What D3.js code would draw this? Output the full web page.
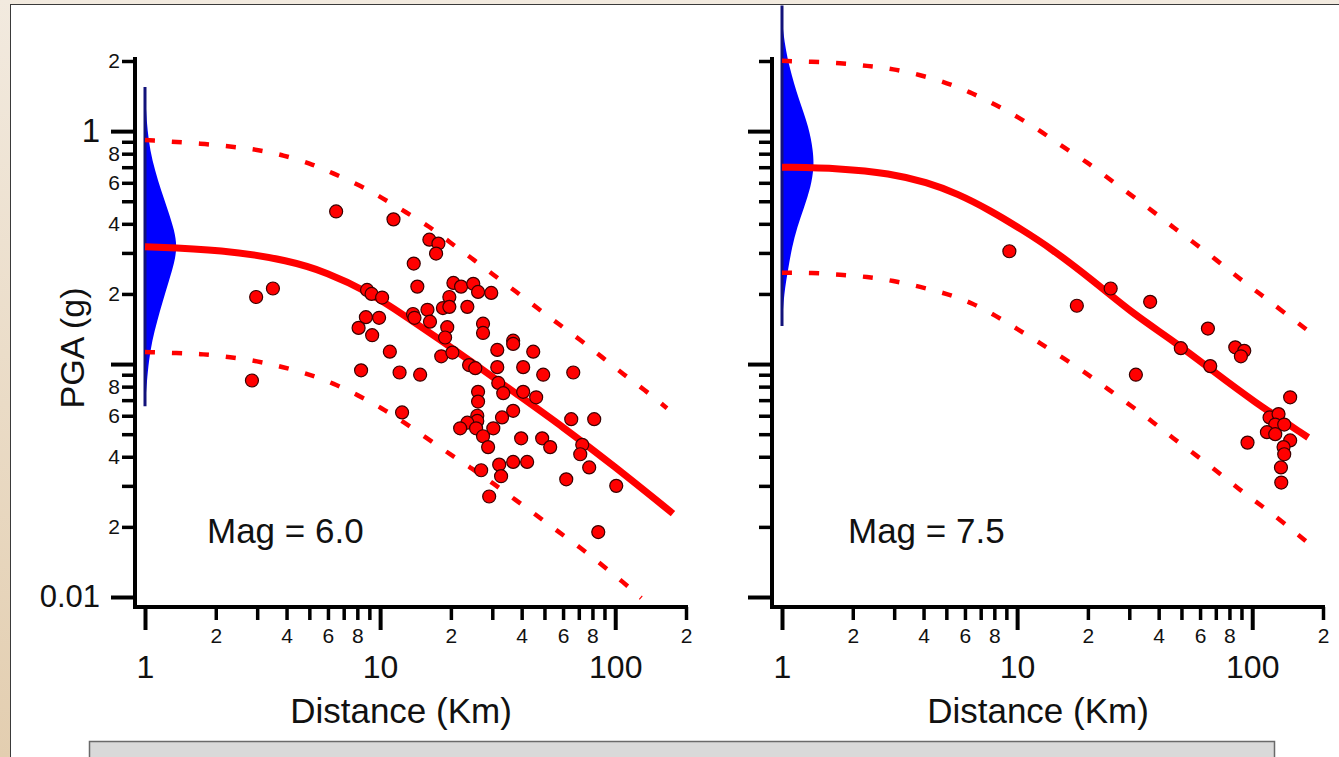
<!DOCTYPE html>
<html>
<head>
<meta charset="utf-8">
<script src="https://cdn.jsdelivr.net/npm/d3@7"></script>
<style>
  html, body { margin: 0; padding: 0; background: #fff; }
  svg { display: block; }
</style>
</head>
<body>
<svg id="chart" width="1339" height="757"></svg>
<script>
// Values: distance in km, PGA in g

// Mag 6.0 recordings [distance, pga]
const m6Points = [
  [6.5, 0.452], [11.4, 0.418], [16.2, 0.342], [17.7, 0.329], [17.3, 0.298], [13.9, 0.270],
  [14.4, 0.215], [20.5, 0.223], [22.1, 0.215], [24.9, 0.221], [26.1, 0.204], [29.7, 0.202],
  [19.7, 0.194], [18.5, 0.174], [19.7, 0.176], [23.5, 0.176], [8.8, 0.208], [9.2, 0.200],
  [10.2, 0.193], [3.5, 0.211], [2.97, 0.194], [8.7, 0.159], [9.9, 0.158], [8.1, 0.143],
  [9.25, 0.133], [13.8, 0.164], [14.0, 0.158], [15.9, 0.171], [16.3, 0.152], [19.3, 0.144],
  [18.9, 0.130], [27.4, 0.149], [27.4, 0.136], [11.0, 0.113], [18.2, 0.108], [20.3, 0.112],
  [23.9, 0.099], [25.4, 0.096], [31.5, 0.115], [31.5, 0.097], [36.8, 0.126], [36.8, 0.122],
  [44.8, 0.113], [40.6, 0.097], [66.3, 0.092], [49.4, 0.090], [8.3, 0.094], [12.1, 0.092],
  [14.8, 0.090], [2.85, 0.085], [12.4, 0.062], [26.1, 0.076], [26.1, 0.069], [31.8, 0.083],
  [33.4, 0.075], [40.6, 0.076], [46.1, 0.072], [36.8, 0.063], [33.0, 0.059], [25.9, 0.060],
  [25.9, 0.057], [23.5, 0.056], [21.9, 0.053], [25.6, 0.053], [30.3, 0.053], [27.4, 0.049],
  [28.8, 0.044], [39.8, 0.048], [48.9, 0.048], [52.9, 0.044], [65.0, 0.058], [81.4, 0.058],
  [72.4, 0.045], [71.0, 0.041], [77.5, 0.036], [36.8, 0.038], [42.2, 0.038], [32.1, 0.037],
  [32.7, 0.033], [26.9, 0.035], [61.9, 0.032], [101, 0.030], [29.1, 0.027], [84.7, 0.019]
];

// Mag 6.0 model: median and the two dashed bounds
const m6Median = [[1, 0.319], [2.15, 0.310], [4.14, 0.278], [5.95, 0.247], [8.8, 0.206], [13.0, 0.159],
  [18, 0.127], [24.9, 0.101], [38.3, 0.0741], [60.1, 0.0536], [98.1, 0.0367], [176, 0.0228]];
const m6Upper = [[1, 0.915], [1.71, 0.888], [3.0, 0.836], [3.87, 0.788], [5.04, 0.728], [6.31, 0.659],
  [8.22, 0.585], [10.3, 0.514], [12.9, 0.448], [16.0, 0.393], [19.9, 0.332], [24.6, 0.284], [30.3, 0.242],
  [37.5, 0.206], [46.6, 0.174], [57.2, 0.149], [71, 0.127], [88, 0.107], [108, 0.0906], [134, 0.0772], [166, 0.0646]];
const m6Lower = [[1, 0.1126], [1.37, 0.1115], [1.77, 0.1104], [2.3, 0.1072], [3.0, 0.103], [3.87, 0.0971],
  [4.94, 0.0906], [6.31, 0.0828], [8.06, 0.0735], [10.2, 0.0646], [12.65, 0.0562], [15.85, 0.048], [19.9, 0.0409],
  [24.6, 0.0356], [30.3, 0.0307], [37.5, 0.0262], [46.6, 0.0223], [57.2, 0.0191], [71, 0.0163], [88, 0.0137],
  [108, 0.0116], [129, 0.0099]];

// Mag 6.0 scatter distribution at 1 km [pga, relative density]
const m6Pdf = [[1.547, 0], [1.232, 0.03], [1.0, 0.08], [0.828, 0.16], [0.679, 0.31], [0.557, 0.5],
  [0.4565, 0.72], [0.3745, 0.92], [0.319, 1.0], [0.2725, 0.92], [0.2279, 0.75], [0.1869, 0.56],
  [0.1532, 0.38], [0.1257, 0.22], [0.103, 0.12], [0.0845, 0.06], [0.0659, 0]];

// Mag 7.5 recordings
const m75Points = [
  [9.27, 0.305], [25.0, 0.211], [17.95, 0.178], [36.8, 0.185], [64.8, 0.142], [49.7, 0.117],
  [66.3, 0.098], [84.7, 0.118], [92.5, 0.114], [89.5, 0.108], [32.0, 0.090], [145, 0.072],
  [118.5, 0.059], [129.4, 0.061], [125.3, 0.055], [136.8, 0.055], [115.5, 0.051], [125.3, 0.050],
  [145, 0.047], [135.9, 0.044], [136.8, 0.041], [95.5, 0.046], [132.5, 0.036], [132.9, 0.031]
];

const m75Median = [[1, 0.700], [1.77, 0.693], [2.88, 0.659], [4.14, 0.603], [5.55, 0.540], [7.68, 0.457],
  [10.6, 0.375], [13.8, 0.316], [21.1, 0.228], [31.2, 0.164], [46.1, 0.126], [68.2, 0.0933], [101, 0.0692], [173, 0.0484]];
const m75Upper = [[1, 2.003], [1.34, 1.983], [1.77, 1.964], [2.3, 1.906], [2.97, 1.85], [3.87, 1.743],
  [5.04, 1.61], [6.43, 1.458], [8.14, 1.294], [10.1, 1.149], [12.8, 0.99], [15.7, 0.853], [19.9, 0.735],
  [24.4, 0.627], [37.5, 0.4565], [46.1, 0.386], [57.2, 0.329], [71, 0.278], [87.2, 0.235], [108, 0.2],
  [134, 0.169], [173, 0.139]];
const m75Lower = [[1, 0.2467], [1.34, 0.2467], [1.77, 0.2418], [2.3, 0.2371], [2.97, 0.2279], [3.87, 0.2147],
  [5.04, 0.2003], [6.43, 0.1833], [8.14, 0.161], [10, 0.1416], [12.5, 0.1232], [15.7, 0.1062], [19.9, 0.0906],
  [24.4, 0.078], [30.3, 0.0666], [37.5, 0.0568], [46.1, 0.048], [57.2, 0.0409], [71, 0.0346], [87.2, 0.0292],
  [108, 0.0249], [134, 0.0211], [170, 0.0173]];

const m75Pdf = [[3.458, 0], [2.645, 0.02], [1.887, 0.22], [1.36, 0.53], [1.04, 0.84], [0.828, 0.97],
  [0.700, 1.0], [0.5737, 0.9], [0.4705, 0.69], [0.3858, 0.47], [0.3162, 0.31], [0.2594, 0.2],
  [0.2003, 0.06], [0.1458, 0]];

// Tick values and labels
const xMajorTicks = [1, 10, 100];
const xMinorTicks = [2, 3, 4, 5, 6, 7, 8, 9, 20, 30, 40, 50, 60, 70, 80, 90, 200];
const xMinorLabelled = [2, 4, 6, 8, 20, 40, 60, 80, 200];
const yMajorTicks = [0.01, 0.1, 1];
const yMajorLabels = ['0.01', '', '1'];
const yMinorTicks = [0.02, 0.03, 0.04, 0.05, 0.06, 0.07, 0.08, 0.09,
  0.2, 0.3, 0.4, 0.5, 0.6, 0.7, 0.8, 0.9, 2];
const yMinorLabelled = [0.02, 0.04, 0.06, 0.08, 0.2, 0.4, 0.6, 0.8, 2];

const FONT = "'Liberation Sans', Arial, sans-serif";
const W = 1339, H = 757;
const AXIS_Y = 607;
const RED = '#ff0000';

const svg = d3.select('#chart').attr('font-family', FONT);

// Page background: beige edge, white card, grey caption box
const grad = svg.append('defs').append('linearGradient')
  .attr('id', 'beige').attr('x1', 0).attr('y1', 0).attr('x2', 0).attr('y2', 1);
grad.append('stop').attr('offset', 0).attr('stop-color', '#f2eadf');
grad.append('stop').attr('offset', 1).attr('stop-color', '#e3ceb0');
svg.append('rect').attr('width', W).attr('height', H).attr('fill', 'url(#beige)');
svg.append('rect')
  .attr('x', 10.5).attr('y', 4.5).attr('width', W).attr('height', H)
  .attr('fill', '#fff').attr('stroke', '#3a3a3a').attr('stroke-width', 1);
svg.append('rect')
  .attr('x', 89.5).attr('y', 741.5).attr('width', 1185).attr('height', 30)
  .attr('fill', '#d9d9d9').attr('stroke', '#6a6a6a').attr('stroke-width', 1.5);

const y = d3.scaleLog().domain([0.01, 2]).range([597, 61]);
const density = d3.scaleLinear().domain([0, 1]).range([0, 32]);

const firstDigit = d => String(Math.round(d / Math.pow(10, Math.floor(Math.log10(d) + 1e-9))));

const panels = [
  { x0: 145, pts: m6Points, median: m6Median, upper: m6Upper, lower: m6Lower, pdf: m6Pdf,
    mag: 'Mag = 6.0', magX: 207, yLabels: true },
  { x0: 782, pts: m75Points, median: m75Median, upper: m75Upper, lower: m75Lower, pdf: m75Pdf,
    mag: 'Mag = 7.5', magX: 848, yLabels: false }
];

panels.forEach(drawPanel);

function drawPanel(cfg) {
  const x = d3.scaleLog().domain([1, 200]).range([cfg.x0, cfg.x0 + 541]);
  const g = svg.append('g');
  const axisX = x(1) - 10;

  // Scatter distribution drawn on the 1 km line
  const area = d3.area()
    .curve(d3.curveBasis)
    .y(d => y(d[0]))
    .x0(x(1))
    .x1(d => x(1) + density(d[1]));
  g.append('path').datum(cfg.pdf).attr('d', area).attr('fill', '#0000ff');
  g.append('line')
    .attr('x1', x(1)).attr('x2', x(1))
    .attr('y1', y(cfg.pdf[0][0])).attr('y2', y(cfg.pdf[cfg.pdf.length - 1][0]))
    .attr('stroke', '#12127a').attr('stroke-width', 3);

  // Model curves
  const line = d3.line()
    .curve(d3.curveBasis)
    .x(d => x(d[0]))
    .y(d => y(d[1]));

  g.selectAll('path.band')
    .data([cfg.upper, cfg.lower])
    .join('path')
    .attr('class', 'band')
    .attr('d', line)
    .attr('fill', 'none')
    .attr('stroke', RED)
    .attr('stroke-width', 4.5)
    .attr('stroke-dasharray', '10 17');

  g.append('path')
    .datum(cfg.median)
    .attr('d', line)
    .attr('fill', 'none')
    .attr('stroke', RED)
    .attr('stroke-width', 7);

  // Recordings
  g.selectAll('circle')
    .data(cfg.pts)
    .join('circle')
    .attr('cx', d => x(d[0]))
    .attr('cy', d => y(d[1]))
    .attr('r', 6.5)
    .attr('fill', RED)
    .attr('stroke', '#3a0000')
    .attr('stroke-width', 1.2);

  // X axis
  const styleAxis = (sel, size, width) => {
    sel.select('.domain').remove();
    sel.attr('font-family', FONT).attr('font-size', size);
    sel.selectAll('line').attr('stroke', '#000').attr('stroke-width', width);
    sel.selectAll('text').attr('fill', '#111');
  };

  g.append('g')
    .attr('transform', `translate(0,${AXIS_Y})`)
    .call(d3.axisBottom(x).tickValues(xMinorTicks).tickSize(13).tickPadding(8)
      .tickFormat(d => xMinorLabelled.includes(d) ? firstDigit(d) : ''))
    .call(s => styleAxis(s, 21, 3.5));

  g.append('g')
    .attr('transform', `translate(0,${AXIS_Y})`)
    .call(d3.axisBottom(x).tickValues(xMajorTicks).tickSize(23).tickPadding(25)
      .tickFormat(d3.format('d')))
    .call(s => styleAxis(s, 32, 4));

  // Y axis
  g.append('g')
    .attr('transform', `translate(${axisX},0)`)
    .call(d3.axisLeft(y).tickValues(yMinorTicks).tickSize(13).tickPadding(2)
      .tickFormat(d => cfg.yLabels && yMinorLabelled.includes(d) ? firstDigit(d) : ''))
    .call(s => styleAxis(s, 21, 3.5));

  g.append('g')
    .attr('transform', `translate(${axisX},0)`)
    .call(d3.axisLeft(y).tickValues(yMajorTicks).tickSize(24).tickPadding(11)
      .tickFormat((d, i) => cfg.yLabels ? yMajorLabels[i] : ''))
    .call(s => styleAxis(s, 31, 4))
    .call(s => s.selectAll('text').filter(d => d === 1).attr('font-size', 33));

  // Axis lines
  g.append('line')
    .attr('x1', axisX).attr('x2', axisX)
    .attr('y1', y(2) - 4).attr('y2', AXIS_Y + 2)
    .attr('stroke', '#000').attr('stroke-width', 4);
  g.append('line')
    .attr('x1', axisX - 2).attr('x2', x(200) + 2)
    .attr('y1', AXIS_Y).attr('y2', AXIS_Y)
    .attr('stroke', '#000').attr('stroke-width', 4);

  // Titles
  g.append('text')
    .attr('x', x(1) + 256).attr('y', 723)
    .attr('text-anchor', 'middle')
    .attr('font-size', 35).attr('fill', '#111')
    .text('Distance (Km)');

  g.append('text')
    .attr('x', cfg.magX).attr('y', 543)
    .attr('font-size', 35).attr('fill', '#111')
    .text(cfg.mag);
}

// Y title
svg.append('text')
  .attr('transform', 'translate(84,348) rotate(-90)')
  .attr('text-anchor', 'middle')
  .attr('font-size', 34).attr('fill', '#111')
  .text('PGA (g)');
</script>
</body>
</html>
